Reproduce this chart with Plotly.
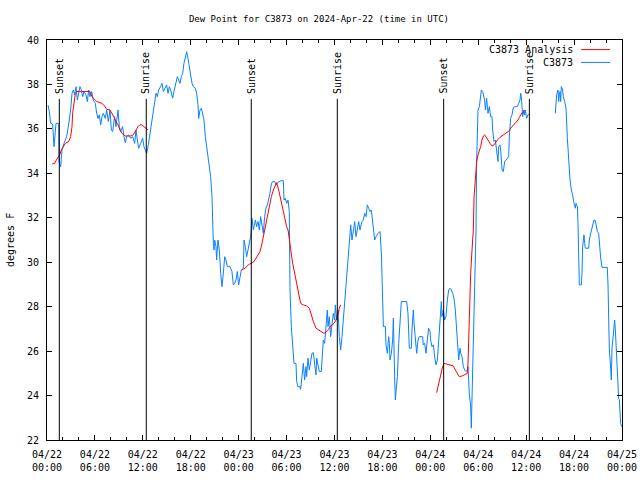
import plotly.graph_objects as go
import pandas as pd

BASE = pd.Timestamp("2024-04-22 00:00")

# C3873 observations (hours since 04/22 00:00, degrees F), two segments
blue_a_h = [0.13,0.29,0.46,0.71,0.88,1.04,1.13,1.46,1.50,1.71,1.88,2.13,2.46,2.67,2.96,3.13,3.30,3.46,3.63,3.80,3.96,4.13,4.30,4.47,4.63,4.88,5.05,5.22,5.38,5.59,5.80,6.05,6.22,6.39,6.55,6.72,6.89,7.05,7.30,7.47,7.68,7.89,8.06,8.22,8.47,8.64,8.89,9.06,9.22,9.47,9.64,9.81,9.97,10.22,10.48,10.73,10.98,11.14,11.31,11.48,11.73,11.98,12.14,12.31,12.48,12.69,12.90,13.15,13.40,13.65,13.81,13.98,14.23,14.40,14.57,14.73,14.98,15.15,15.32,15.48,15.73,15.90,16.15,16.32,16.49,16.65,16.82,16.99,17.15,17.32,17.49,17.65,17.82,17.99,18.16,18.32,18.57,18.74,18.91,18.99,
            19.16,19.33,19.49,19.66,19.83,19.99,20.16,20.33,20.49,20.66,20.74,20.83,20.91,20.99,21.16,21.24,21.41,21.58,21.75,21.91,22.08,22.25,22.41,22.58,22.91,23.16,23.33,23.50,23.67,23.83,24.00,24.17,24.33,24.58,24.67,24.83,25.00,25.17,25.33,25.50,25.67,25.84,26.09,26.25,26.42,26.59,26.75,26.92,27.09,27.25,27.42,27.59,27.76,27.92,28.09,28.26,28.51,28.67,28.84,29.01,29.43,29.59,29.68,29.84,30.01,30.18,30.34,
            30.43,30.59,30.76,30.93,31.18,31.26,31.43,31.68,31.76,31.93,32.10,32.26,32.43,32.51,32.68,32.85,33.01,33.18,33.35,33.52,33.68,33.77,33.93,34.10,34.35,34.52,34.60,34.77,34.93,35.10,35.19,35.35,35.52,35.69,35.85,36.02,36.10,36.27,36.44,36.60,36.77,36.94,37.11,37.27,37.52,37.77,
            37.94,38.03,38.19,38.36,38.53,38.69,38.86,39.03,39.19,39.44,39.61,39.78,39.95,40.11,40.28,40.45,40.61,40.78,40.95,41.03,41.20,41.45,41.70,41.87,42.03,42.12,42.37,42.45,42.62,42.78,42.87,42.95,43.12,43.28,43.37,43.45,43.53,43.62,43.79,43.87,44.04,44.20,44.37,45.04,45.20,45.37,45.62,45.70,45.87,45.96,46.12,46.29,46.46,46.62,47.04,47.12,47.29,47.46,47.62,47.79,47.96,48.04,48.21,48.38,48.54,48.71,48.88,49.04,49.21,49.38,49.46,49.63,49.79,49.96,50.13,50.30,50.46,50.63,50.80,50.96,51.13,51.30,51.38,51.55,51.71,51.80,51.97,52.13,52.30,52.47,52.63,52.72,52.88,53.05,53.13,53.22,53.30,53.38,53.47,53.55,53.64,53.72,
            53.80,53.89,53.97,54.14,54.22,54.39,54.55,54.64,54.80,54.89,55.05,55.22,55.39,55.56,55.72,55.81,55.97,56.14,56.31,56.47,56.56,56.72,56.81,56.98,57.14,57.31,57.48,57.64,57.81,57.89,58.06,58.23,58.39,58.64,58.89,59.06,59.23,59.31,59.40,59.48,59.56,59.73,59.81,59.90,60.06,60.23,60.31]
blue_a_v = [37.07,36.78,36.25,36.22,35.2,35.8,36.25,36.25,34.53,34.3,35.05,35.35,35.65,36.1,36.85,37.6,37.75,37.53,37.9,37.3,37.6,37.9,37.75,37.45,37.68,37.53,37.23,37.75,37.45,37.68,37.3,37.15,36.7,36.47,36.63,36.18,36.55,36.7,36.47,36.85,36.33,36.85,35.95,35.88,36.55,36.1,36.85,36.1,35.88,36.1,35.65,35.38,35.65,35.73,35.58,35.65,35.35,35.95,35.5,35.13,35.35,35.58,35.2,35.05,34.9,35.28,35.8,36.4,37.0,37.6,37.45,37.75,37.9,38.05,37.68,37.83,37.98,37.6,37.9,37.75,37.38,37.68,38.05,38.35,38.2,38.05,38.35,38.5,38.95,39.25,39.47,39.18,38.8,38.5,38.05,37.9,37.83,37.6,37.08,36.47,
            36.85,36.93,36.7,36.4,35.65,35.2,34.75,34.45,33.85,32.95,31.45,30.85,30.55,31.0,30.7,30.1,31.0,30.55,29.5,28.9,29.5,30.25,30.1,29.8,29.8,29.58,28.98,29.05,29.2,29.58,28.98,29.28,29.65,29.73,31.0,30.7,30.25,30.55,30.85,31.15,31.98,31.45,31.9,31.6,31.83,31.45,32.05,31.6,31.3,32.05,32.43,32.58,32.8,33.1,33.52,33.63,33.63,33.48,33.55,33.63,33.67,33.67,32.8,32.88,32.65,32.8,32.28,
            28.75,27.1,26.05,25.45,25.45,24.63,24.4,24.4,24.28,24.85,25.45,24.7,25.3,24.85,25.68,25.15,25.53,25.9,25.93,25.3,24.93,25.68,25.38,25.08,25.08,25.9,26.5,26.35,27.18,27.85,27.1,27.55,26.65,27.1,27.7,27.4,28.08,27.4,27.85,26.65,26.05,26.65,27.4,28.15,29.5,30.55,
            31.15,31.68,31.0,31.45,31.83,31.15,31.6,31.83,31.45,31.83,31.9,32.2,32.05,32.58,32.43,32.28,32.35,31.9,31.45,31.0,31.15,31.3,31.38,30.4,28.3,27.1,27.1,26.28,25.9,26.65,26.35,25.6,25.9,26.5,27.48,25.45,24.85,23.8,24.4,24.85,26.35,27.25,28.23,28.23,27.7,26.13,26.13,26.95,27.85,27.25,26.5,25.9,26.5,26.65,26.65,26.28,26.35,25.9,26.5,27.03,26.88,26.5,26.2,26.28,25.75,25.38,25.6,26.5,27.7,28.23,27.55,27.85,27.4,27.55,28.3,28.75,28.83,28.75,28.6,28.38,27.85,26.95,26.13,25.6,26.13,25.9,25.75,25.3,25.15,25.08,25.15,25.3,24.1,23.5,22.53,24.1,25.75,26.58,28.0,29.05,30.7,31.45,
            34.53,36.03,36.85,37.0,37.38,37.75,37.68,37.53,37.3,36.85,37.38,36.7,37.0,36.55,36.55,35.95,35.43,35.5,34.98,34.53,35.2,35.28,35.05,34.15,34.08,34.53,34.6,34.68,34.75,35.65,36.48,36.63,36.97,37.0,37.0,37.15,37.3,37.6,37.45,37.0,36.55,36.85,36.63,36.85,36.48,36.63,36.67]
blue_b_h = [63.65,63.74,63.82,63.99,64.07,64.15,64.24,64.32,64.40,64.57,64.65,64.82,64.99,65.16,65.32,65.49,65.66,65.82,65.99,66.16,66.24,66.41,66.49,66.57,66.66,66.91,66.99,67.07,67.24,67.33,67.41,67.83,67.91,68.08,68.33,68.49,68.66,68.83,68.91,69.08,69.16,69.33,69.50,70.16,70.25,70.33,70.41,70.58,70.66,70.75,70.91,71.00,71.08,71.17,71.25,71.33,71.42,71.58,71.67,71.75,71.83,71.95]
blue_b_v = [36.7,37.0,37.53,37.75,37.23,37.53,37.68,37.23,37.9,37.75,37.45,37.23,36.93,35.58,34.45,33.7,33.25,33.03,32.65,32.43,32.65,32.5,31.75,29.95,28.98,28.98,29.5,30.7,31.23,30.85,30.63,30.63,31.0,31.3,31.75,31.9,31.87,31.6,31.38,31.3,30.85,30.18,29.77,29.77,28.98,27.4,26.13,25.23,24.7,26.13,26.73,27.1,27.4,26.95,26.28,25.53,24.55,23.88,23.8,23.28,22.75,22.6]

# C3873 Analysis, three segments
red_a_h = [0.63,0.96,1.13,1.38,1.63,1.79,2.05,2.30,2.63,2.80,2.96,3.13,3.21,3.38,3.55,3.71,5.38,5.63,5.89,6.22,6.64,6.89,7.22,7.47,7.89,8.14,8.39,8.64,8.89,9.14,9.39,9.81,10.14,10.48,10.81,11.14,11.39,11.64,11.89,12.14,12.40,12.65]
red_a_v = [34.42,34.45,34.57,34.72,34.87,35.05,35.2,35.35,35.41,35.5,35.65,36.1,36.7,37.23,37.6,37.68,37.68,37.45,37.33,37.23,37.18,37.15,37.03,36.88,36.85,36.7,36.52,36.33,36.18,35.95,35.8,35.68,35.68,35.68,35.73,35.95,36.1,36.19,36.18,36.1,36.01,35.95]
red_b_h = [24.37,24.79,25.21,25.63,25.92,26.17,26.42,26.67,26.84,27.00,27.26,27.42,27.59,27.76,27.92,28.09,28.34,28.59,28.76,29.01,29.26,29.51,29.76,30.01,30.18,30.43,30.59,30.76,30.93,31.09,31.26,31.43,31.60,31.76,32.10,32.51,32.85,33.01,33.18,33.35,33.52,33.68,34.02,34.35,34.68,35.02,35.27,35.44,35.69,35.94,36.19,36.44,36.60,36.77]
red_b_v = [29.65,29.73,29.88,29.95,30.03,30.18,30.33,30.48,30.7,31.0,31.45,31.83,32.13,32.43,32.65,32.95,33.25,33.48,33.58,33.25,32.8,32.35,31.98,31.6,31.45,30.7,30.33,29.95,29.65,29.35,29.05,28.68,28.3,28.15,28.08,28.03,27.93,27.7,27.48,27.33,27.18,27.03,26.95,26.88,26.8,26.88,26.98,27.1,27.18,27.25,27.4,27.63,27.93,28.08]
red_c_h = [48.79,49.04,49.21,49.38,49.54,49.71,49.96,50.46,50.88,51.13,51.38,51.63,51.97,52.22,52.47,52.63,52.72,52.80,52.88,53.05,53.22,53.38,53.47,53.64,53.80,53.97,54.14,54.30,54.47,54.64,54.80,54.97,55.22,55.47,55.72,55.97,56.22,56.47,56.72,56.98,57.23,57.56,57.89,58.06,58.31,58.56,58.81,58.98,59.15,59.31,59.48,59.65,59.81]
red_c_v = [24.13,24.55,24.78,25.0,25.3,25.45,25.42,25.38,25.33,25.15,25.0,24.85,24.88,24.93,24.97,25.0,25.45,26.5,28.45,29.5,30.55,31.45,32.88,34.0,34.53,34.83,34.98,35.2,35.5,35.68,35.73,35.65,35.5,35.35,35.23,35.28,35.43,35.53,35.62,35.68,35.74,35.83,35.92,36.03,36.13,36.25,36.33,36.4,36.52,36.63,36.73,36.78,36.85]

# Sun events (hours since 04/22 00:00)
sun_labels = ["Sunset", "Sunrise", "Sunset", "Sunrise", "Sunset", "Sunrise"]
sun_hours = [1.54, 12.43, 25.58, 36.35, 49.67, 60.40]

tick_hours = list(range(0, 73, 6))

def ts(h):
    return (BASE + pd.Timedelta(hours=h)).strftime("%Y-%m-%d %H:%M:%S")

def join(segs):
    xs, ys = [], []
    for hs, vs in segs:
        if xs:
            xs.append(None); ys.append(None)
        xs += [ts(h) for h in hs]
        ys += vs
    return xs, ys

FONT = "DejaVu Sans Mono"
RED = "#ff0000"
BLUE = "#0a80ff"

fig = go.Figure()
rx, ry = join([(red_a_h, red_a_v), (red_b_h, red_b_v), (red_c_h, red_c_v)])
bx, by = join([(blue_a_h, blue_a_v), (blue_b_h, blue_b_v)])
fig.add_trace(go.Scatter(x=bx, y=by, mode="lines", name="C3873",
                         line=dict(color=BLUE, width=1), connectgaps=False))
fig.add_trace(go.Scatter(x=rx, y=ry, mode="lines", name="C3873 Analysis",
                         line=dict(color=RED, width=1), connectgaps=False))

shapes = []
annotations = []
for lab, h in zip(sun_labels, sun_hours):
    shapes.append(dict(type="line", xref="x", yref="y", x0=ts(h), x1=ts(h),
                       y0=22, y1=37.35, line=dict(color="black", width=1)))
    annotations.append(dict(text=lab, x=ts(h), y=37.49, xref="x", yref="y",
                            textangle=-90, xanchor="center", yanchor="bottom",
                            showarrow=False, font=dict(family=FONT, size=10, color="black")))

# gnuplot-style key
legend_rows = [("C3873 Analysis", RED, 0.976), ("C3873", BLUE, 0.944)]
for txt, col, yp in legend_rows:
    annotations.append(dict(text=txt, x=0.9183, y=yp, xref="paper", yref="paper",
                            xanchor="right", yanchor="middle", showarrow=False,
                            font=dict(family=FONT, size=10, color="black")))
    shapes.append(dict(type="line", xref="paper", yref="paper", x0=0.9287, x1=0.9791,
                       y0=yp, y1=yp, line=dict(color=col, width=1)))

annotations.append(dict(text="degrees F", x=-0.0643, y=0.5, xref="paper", yref="paper",
                        textangle=-90, showarrow=False, xanchor="center", yanchor="middle",
                        font=dict(family=FONT, size=10, color="black")))

fig.update_layout(
    width=640, height=480,
    margin=dict(l=47, r=18, t=40, b=40),
    paper_bgcolor="white", plot_bgcolor="white",
    showlegend=False,
    title=dict(text="Dew Point for C3873 on 2024-Apr-22 (time in UTC)", x=0.473, xref="paper",
               y=1 - 19 / 480, yref="container", xanchor="center", yanchor="middle",
               font=dict(family=FONT, size=9, color="black")),
    font=dict(family=FONT, size=10, color="black"),
    shapes=shapes, annotations=annotations,
)
fig.update_xaxes(
    type="date", range=[ts(0), ts(72)],
    tickmode="array", tickvals=[ts(h) for h in tick_hours],
    ticktext=[(BASE + pd.Timedelta(hours=h)).strftime("%m/%d<br>%H:%M") for h in tick_hours],
    ticks="inside", ticklen=5, tickcolor="black", tickwidth=1,
    minor=dict(dtick=2 * 3600 * 1000, ticks="inside", ticklen=3, tickcolor="black", tickwidth=1),
    showline=True, linecolor="black", linewidth=1, mirror="allticks",
    showgrid=False, zeroline=False, ticklabelstandoff=5, automargin=False,
    tickfont=dict(family=FONT, size=10, color="black"),
)
fig.update_yaxes(
    range=[22, 40], dtick=2, tick0=22,
    ticks="inside", ticklen=5, tickcolor="black", tickwidth=1,
    showline=True, linecolor="black", linewidth=1, mirror="allticks",
    showgrid=False, zeroline=False, ticklabelstandoff=5, automargin=False,
    tickfont=dict(family=FONT, size=10, color="black"),
)

fig.write_html("out.html", config={"displayModeBar": False},
               post_script="document.body.style.margin='0';document.body.style.overflow='hidden';")
